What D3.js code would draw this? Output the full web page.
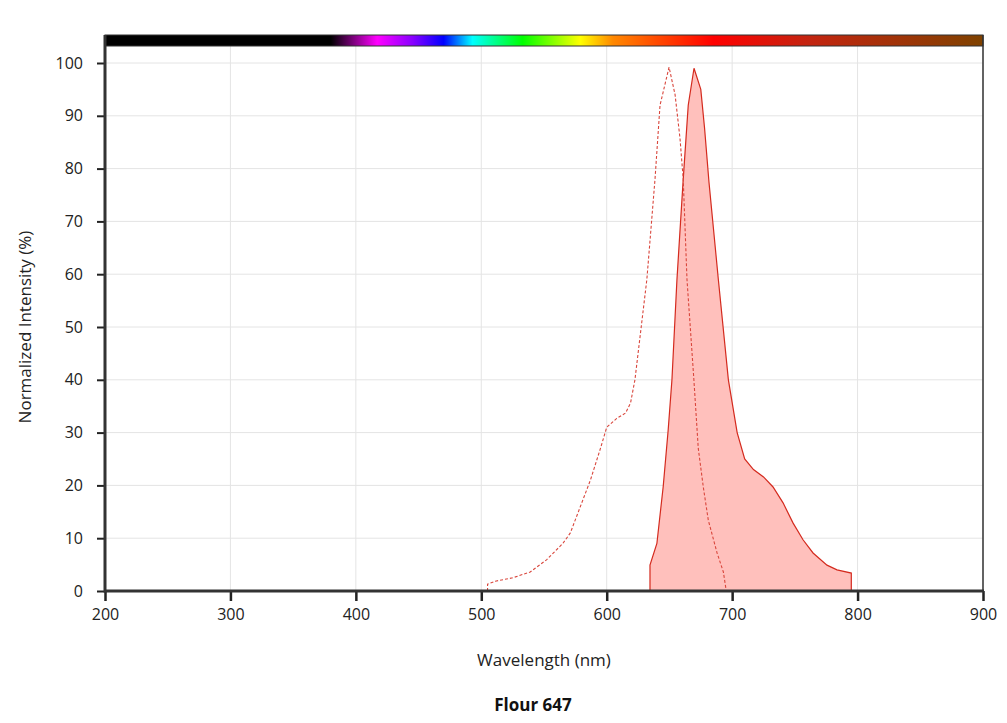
<!DOCTYPE html>
<html>
<head>
<meta charset="utf-8">
<script src="https://cdn.jsdelivr.net/npm/d3@7"></script>
<style>
  body { margin: 0; background: #fff; }
  svg { font-family: "Open Sans", "DejaVu Sans", sans-serif; }
  .axis-label { font-size: 17px; fill: #222; }
  .chart-title { font-size: 17px; font-weight: bold; fill: #111; }
</style>
</head>
<body>
<div id="chart"></div>
<script>
// --- Layout ---
const width = 1007;
const height = 723;
const plot = { left: 105, right: 983, top: 35, bottom: 591 };
const FONT = "'Open Sans', 'DejaVu Sans', sans-serif";

// --- Data ---
// excitation spectrum (dashed)
const exWavelength = [505, 505, 512, 525, 539, 552, 565, 571, 579, 587, 595, 600, 608, 615, 619, 622.5, 632, 638.5, 642.5, 649.7, 654.5, 658.4, 661, 664, 669.5, 673, 677, 681, 688, 693, 695];
const exIntensity  = [0, 1.3, 1.9, 2.5, 3.6, 5.9, 9, 11, 16, 21, 27, 31, 32.7, 33.7, 35.6, 40, 59, 78, 92, 99.2, 94, 85.8, 78, 59, 40, 27, 19.7, 13.4, 7.2, 3.6, 0.5];

// emission spectrum (filled)
const emWavelength = [634.5, 634.5, 640, 645, 649, 652, 656, 661, 665, 669.6, 675, 678, 681.5, 689, 697, 704, 710, 717, 725, 732.6, 740.6, 748.5, 756.5, 764.5, 775.6, 783.6, 795, 795];
const emIntensity  = [0, 4.9, 9, 19.7, 30.5, 40, 59, 78, 92, 99, 95, 87.7, 77.5, 59, 40, 30, 25, 23, 21.6, 19.7, 16.7, 12.9, 9.7, 7.2, 4.9, 4, 3.4, 0];

// spectrum colour bar stops
const barStopNm    = [200, 380, 417, 445, 470, 493, 533, 579, 605, 640, 685, 760, 900];
const barStopColor = ["#000000", "#000000", "#ff00ff", "#8a00ff", "#0000ff", "#00ffff", "#00ff00", "#ffff00", "#ff8800", "#ff4a00", "#ff0000", "#c42410", "#7f4200"];

const xTicks = [200, 300, 400, 500, 600, 700, 800, 900];
const yTicks = [0, 10, 20, 30, 40, 50, 60, 70, 80, 90, 100];

const exData = exWavelength.map((w, i) => ({ w, v: exIntensity[i] }));
const emData = emWavelength.map((w, i) => ({ w, v: emIntensity[i] }));

// --- SVG ---
const svg = d3.select("#chart").append("svg")
  .attr("width", width)
  .attr("height", height);

const x = d3.scaleLinear().domain([200, 900]).range([plot.left, plot.right]);
const y = d3.scaleLinear().domain([0, 100]).range([plot.bottom, 63]);

// gridlines
svg.append("g")
  .selectAll("line.vgrid")
  .data(xTicks)
  .join("line")
  .attr("x1", d => x(d)).attr("x2", d => x(d))
  .attr("y1", plot.top).attr("y2", plot.bottom)
  .attr("stroke", "#e4e4e4");

svg.append("g")
  .selectAll("line.hgrid")
  .data(yTicks)
  .join("line")
  .attr("x1", plot.left).attr("x2", plot.right)
  .attr("y1", d => y(d)).attr("y2", d => y(d))
  .attr("stroke", "#e4e4e4");

// spectrum bar gradient
const grad = svg.append("defs").append("linearGradient")
  .attr("id", "spectrum")
  .attr("x1", "0%").attr("x2", "100%").attr("y1", "0%").attr("y2", "0%");
grad.selectAll("stop")
  .data(barStopNm)
  .join("stop")
  .attr("offset", (d) => ((d - 200) / 700 * 100) + "%")
  .attr("stop-color", (d, i) => barStopColor[i]);

svg.append("rect")
  .attr("x", x(200)).attr("y", plot.top)
  .attr("width", x(900) - x(200)).attr("height", 11)
  .attr("fill", "url(#spectrum)")
  .attr("stroke", "#333")
  .attr("stroke-width", 1);

// emission area
const area = d3.area()
  .x(d => x(d.w))
  .y0(y(0))
  .y1(d => y(d.v));

svg.append("path")
  .datum(emData)
  .attr("d", area)
  .attr("fill", "#ffc0bc")
  .attr("stroke", "none");

const line = d3.line().x(d => x(d.w)).y(d => y(d.v));

svg.append("path")
  .datum(emData)
  .attr("d", line)
  .attr("fill", "none")
  .attr("stroke", "#d42a1e")
  .attr("stroke-width", 1.2);

// excitation dashed line
svg.append("path")
  .datum(exData)
  .attr("d", line)
  .attr("fill", "none")
  .attr("stroke", "#d9463c")
  .attr("stroke-width", 1.1)
  .attr("stroke-dasharray", "3,2");

// right frame line
svg.append("line")
  .attr("x1", plot.right).attr("x2", plot.right)
  .attr("y1", plot.top).attr("y2", plot.bottom)
  .attr("stroke", "#333").attr("stroke-width", 1.5);

// axes
const xAxis = svg.append("g")
  .attr("transform", `translate(0,${plot.bottom})`)
  .call(d3.axisBottom(x).tickValues(xTicks).tickSize(10).tickPadding(8).tickFormat(d3.format("d")))
  .attr("font-family", FONT)
  .attr("font-size", 16);
xAxis.select(".domain").remove();
xAxis.selectAll(".tick line").attr("stroke", "#222").attr("stroke-width", 2.5);
xAxis.selectAll(".tick text").attr("fill", "#222");

const yAxis = svg.append("g")
  .attr("transform", `translate(${plot.left},0)`)
  .call(d3.axisLeft(y).tickValues(yTicks).tickSize(8).tickPadding(14))
  .attr("font-family", FONT)
  .attr("font-size", 16);
yAxis.select(".domain").remove();
yAxis.selectAll(".tick line").attr("stroke", "#222").attr("stroke-width", 2);
yAxis.selectAll(".tick text").attr("fill", "#222");

// thick axis lines
svg.append("line")
  .attr("x1", plot.left).attr("x2", plot.left)
  .attr("y1", plot.top).attr("y2", plot.bottom + 1.5)
  .attr("stroke", "#333").attr("stroke-width", 3);
svg.append("line")
  .attr("x1", plot.left).attr("x2", plot.right + 1)
  .attr("y1", plot.bottom).attr("y2", plot.bottom)
  .attr("stroke", "#333").attr("stroke-width", 3);

// labels
svg.append("text")
  .attr("class", "axis-label")
  .attr("x", 544)
  .attr("y", 666)
  .attr("text-anchor", "middle")
  .text("Wavelength (nm)");

svg.append("text")
  .attr("class", "axis-label")
  .attr("transform", `translate(31,327) rotate(-90)`)
  .attr("text-anchor", "middle")
  .text("Normalized Intensity (%)");

svg.append("text")
  .attr("class", "chart-title")
  .attr("x", 533)
  .attr("y", 711)
  .attr("text-anchor", "middle")
  .text("Flour 647");
</script>
</body>
</html>
